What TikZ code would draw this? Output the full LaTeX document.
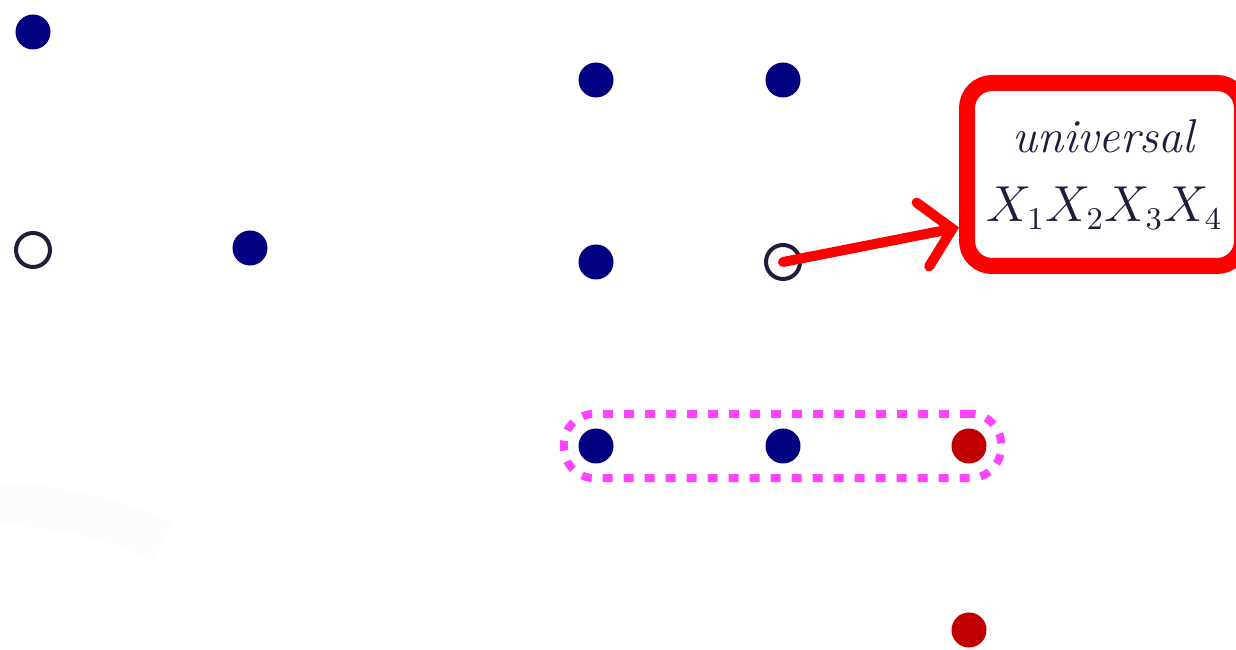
\documentclass[tikz,border=0pt]{standalone}
\usetikzlibrary{arrows.meta,fit}
\definecolor{dotblue}{HTML}{000080}
\definecolor{dotred}{HTML}{C00000}
\definecolor{ink}{HTML}{1E1E3C}
\definecolor{hotpink}{HTML}{FF44FF}
\definecolor{boxred}{HTML}{FF0000}
\begin{document}
\begin{tikzpicture}[
    bluedot/.style={circle, fill=dotblue, minimum size=0.35cm, inner sep=0pt},
    reddot/.style={circle, fill=dotred, minimum size=0.35cm, inner sep=0pt},
    opendot/.style={circle, draw=ink, fill=white, line width=0.04cm, minimum size=0.34cm, inner sep=0pt},
    group/.style={draw=hotpink, line width=0.08cm, dash pattern=on 0.1cm off 0.11cm, rounded corners=0.31cm, inner sep=0.14cm},
    note/.style={rectangle, draw=boxred, fill=white, line width=0.16cm, rounded corners=0.25cm, minimum width=2.75cm, minimum height=1.83cm, inner sep=0pt, text=ink, align=center, font=\fontsize{13.5}{19.5}\selectfont},
    line/.style={draw=boxred, line width=0.1cm, line cap=round, -{Straight Barb[length=0.3cm, width=0.65cm, line cap=round]}}]
    \useasboundingbox (0,0) rectangle (12.36,6.5);
    % faint stroke, bottom left
    \draw [black!1, line width=0.42cm] (-0.1,1.47) .. controls (0.6,1.45) and (1.2,1.3) .. (1.62,1.08);

    \node [bluedot] (a) at (0.33,6.18) {};
    \node [opendot] (b) at (0.33,4.00) {};
    \node [bluedot] (c) at (2.50,4.02) {};

    \node [bluedot] (d11) at (5.96,5.70) {};
    \node [bluedot] (d12) at (7.83,5.70) {};
    \node [bluedot] (d21) at (5.96,3.88) {};
    \node [opendot] (d22) at (7.83,3.88) {};
    \node [bluedot] (d31) at (5.96,2.04) {};
    \node [bluedot] (d32) at (7.83,2.04) {};
    \node [reddot] (d33) at (9.69,2.04) {};
    \node [reddot] (d43) at (9.69,0.20) {};

    \node [group, fit=(d31)(d33)] (row) {};

    \node [note] (univ) at (11.045,4.755) {\textit{universal}\\$X_1X_2X_3X_4$};

    \path [line] (d22.center) -- (univ.200);
\end{tikzpicture}
\end{document}
